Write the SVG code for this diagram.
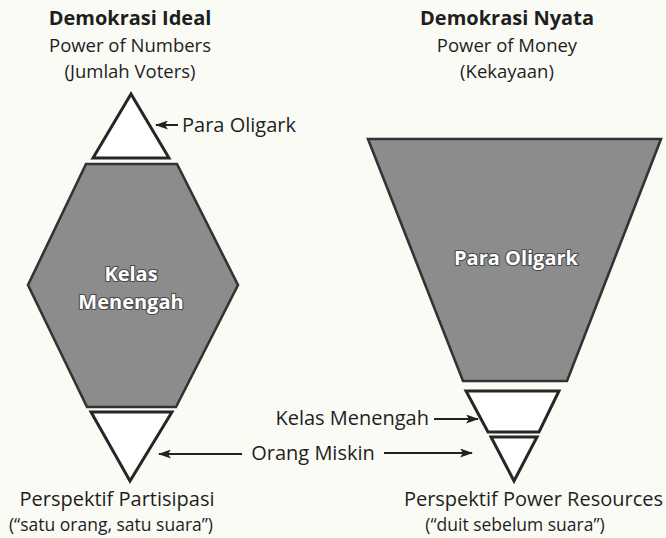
<svg xmlns="http://www.w3.org/2000/svg" width="666" height="538" viewBox="0 0 666 538">
  <style>
    .t { font-family: "Open Sans", "Noto Sans", "Liberation Sans", sans-serif; fill: #1e1e1e; }
    .title { font-weight: bold; font-size: 20px; }
    .sub { font-size: 18.5px; }
    .lbl { font-size: 20px; }
    .foot { font-size: 20px; }
    .foot2 { font-size: 17.5px; }
    .inner { font-family: "Open Sans", "Noto Sans", "Liberation Sans", sans-serif; font-weight: bold; font-size: 20px; fill: #ffffff; stroke: #4a4a4a; stroke-width: 2.2px; paint-order: stroke; stroke-linejoin: round; }
    .white { fill: #ffffff; stroke: #262626; stroke-width: 3; stroke-linejoin: miter; }
    .gray { fill: #8c8c8c; stroke: #333333; stroke-width: 2.6; stroke-linejoin: miter; }
    .conn { stroke: #222; stroke-width: 2; fill: none; }
  </style>
  <defs>
    <marker id="ah" markerUnits="userSpaceOnUse" markerWidth="13" markerHeight="9" refX="12" refY="4.5" orient="auto">
      <path d="M0,0 L13,4.5 L0,9 L3,4.5 z" fill="#222"/>
    </marker>
  </defs>
  <rect width="666" height="538" fill="#fbfbf5"/>

  <g id="title-ideal">
    <text class="t title" x="130" y="25" text-anchor="middle">Demokrasi Ideal</text>
    <text class="t sub" x="130" y="52" text-anchor="middle">Power of Numbers</text>
    <text class="t sub" x="130" y="78" text-anchor="middle">(Jumlah Voters)</text>
  </g>
  <g id="title-nyata">
    <text class="t title" x="507" y="25" text-anchor="middle">Demokrasi Nyata</text>
    <text class="t sub" x="507" y="52" text-anchor="middle">Power of Money</text>
    <text class="t sub" x="507" y="78" text-anchor="middle">(Kekayaan)</text>
  </g>

  <g id="ideal-oligark">
    <polygon class="white" points="131,94 93,158 169,158"/>
  </g>
  <g id="ideal-menengah">
    <polygon class="gray" points="86,164 177,164 238,285 176,407 87,407 28,285"/>
    <text class="inner" x="131" y="281" text-anchor="middle">Kelas</text>
    <text class="inner" x="131" y="309" text-anchor="middle">Menengah</text>
  </g>
  <g id="ideal-miskin">
    <polygon class="white" points="91,412 172,412 130,481"/>
  </g>

  <g id="nyata-oligark">
    <polygon class="gray" points="368,139 661,139 567,381 463,381"/>
    <text class="inner" x="516" y="265" text-anchor="middle">Para Oligark</text>
  </g>
  <g id="nyata-menengah">
    <polygon class="white" points="466,391 559,391 539,432 488,432"/>
  </g>
  <g id="nyata-miskin">
    <polygon class="white" points="491,437 537,437 514,481"/>
  </g>

  <g id="labels">
    <text class="t lbl" x="182" y="132">Para Oligark</text>
    <text class="t lbl" x="429" y="425" text-anchor="end">Kelas Menengah</text>
    <text class="t lbl" x="313" y="460" text-anchor="middle">Orang Miskin</text>
    <text class="t foot" x="117" y="506" text-anchor="middle">Perspektif Partisipasi</text>
    <text class="t foot2" x="111" y="531" text-anchor="middle">(“satu orang, satu suara”)</text>
    <text class="t foot" x="663" y="506" text-anchor="end">Perspektif Power Resources</text>
    <text class="t foot2" x="515" y="531" text-anchor="middle">(“duit sebelum suara”)</text>
  </g>

  <g id="connectors">
    <line class="conn" x1="178" y1="125" x2="156" y2="125" marker-end="url(#ah)"/>
    <line class="conn" x1="434" y1="419" x2="478" y2="419" marker-end="url(#ah)"/>
    <line class="conn" x1="242" y1="454" x2="159" y2="454" marker-end="url(#ah)"/>
    <line class="conn" x1="384" y1="453" x2="472" y2="453" marker-end="url(#ah)"/>
  </g>
</svg>
